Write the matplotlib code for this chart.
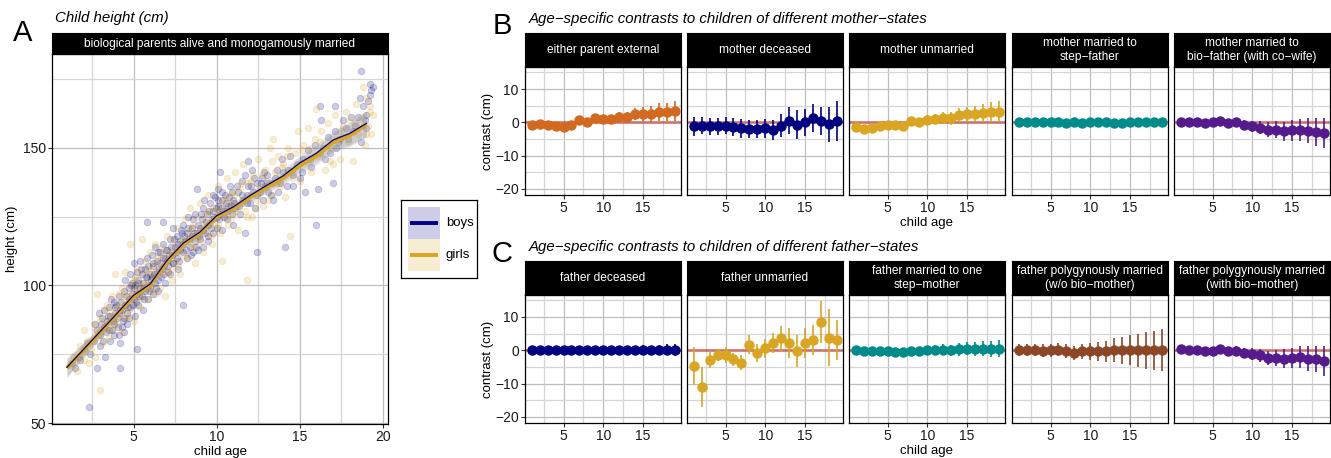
import numpy as np
import matplotlib
matplotlib.use("Agg")
import matplotlib.pyplot as plt
from matplotlib.patches import Rectangle

plt.rcParams['font.family'] = ['Liberation Sans', 'DejaVu Sans']

# ---------------- data ----------------
# panel A: individual children (age, height)
boys_pts = [
    (1.3, 72), (1.5, 70), (1.7, 74), (1.8, 73), (2.0, 77), (2.2, 79), (2.3, 56), (2.4, 75), (2.6, 80), (2.7, 86),
    (2.8, 70), (2.8, 84), (2.9, 90), (3.0, 78), (3.0, 82), (3.1, 88), (3.2, 85), (3.3, 74), (3.4, 87), (3.5, 92),
    (3.6, 80), (3.6, 89), (3.7, 84), (3.8, 94), (3.8, 86), (3.9, 90), (3.9, 92), (4.0, 88), (4.1, 82), (4.1, 96),
    (4.2, 79), (4.2, 70), (4.2, 91), (4.3, 85), (4.3, 91), (4.4, 88), (4.4, 98), (4.5, 93), (4.5, 102), (4.6, 90),
    (4.6, 86), (4.7, 95), (4.7, 99), (4.8, 104), (4.8, 92), (4.9, 97), (4.9, 101), (5.0, 95), (5.0, 108), (5.1, 89),
    (5.1, 100), (5.2, 97), (5.2, 105), (5.2, 77), (5.3, 93), (5.3, 102), (5.4, 99), (5.4, 109), (5.5, 96), (5.5, 104),
    (5.6, 101), (5.6, 91), (5.7, 106), (5.7, 98), (5.8, 103), (5.8, 110), (5.8, 123), (5.9, 100), (5.9, 95), (6.0, 104),
    (6.0, 99), (6.1, 111), (6.1, 103), (6.2, 97), (6.2, 107), (6.3, 101), (6.3, 114), (6.4, 105), (6.4, 109), (6.5, 102),
    (6.5, 98), (6.6, 108), (6.6, 112), (6.7, 106), (6.8, 104), (6.8, 115), (6.8, 123), (6.9, 110), (6.9, 101), (7.0, 109),
    (7.0, 113), (7.1, 107), (7.2, 117), (7.2, 104), (7.3, 111), (7.4, 121), (7.4, 108), (7.5, 114), (7.6, 110), (7.6, 118),
    (7.7, 106), (7.8, 113), (7.8, 116), (7.9, 119), (8.0, 112), (8.0, 122), (8.0, 93), (8.1, 116), (8.2, 110), (8.2, 119),
    (8.3, 125), (8.4, 114), (8.5, 118), (8.5, 121), (8.6, 112), (8.7, 126), (8.7, 116), (8.8, 119), (8.8, 135), (8.9, 113),
    (9.0, 121), (9.0, 117), (9.1, 124), (9.2, 128), (9.2, 114), (9.3, 119), (9.4, 126), (9.5, 122), (9.5, 116), (9.6, 130),
    (9.7, 124), (9.8, 119), (9.8, 127), (9.9, 132), (10.0, 125), (10.0, 121), (10.1, 129), (10.1, 135), (10.2, 126), (10.2, 141),
    (10.3, 120), (10.3, 131), (10.4, 127), (10.5, 133), (10.6, 124), (10.7, 129), (10.8, 136), (10.9, 126), (11.0, 131), (11.0, 122),
    (11.1, 128), (11.3, 134), (11.4, 126), (11.5, 138), (11.6, 131), (11.7, 119), (11.8, 133), (11.9, 136), (11.9, 145), (12.0, 130),
    (12.1, 142), (12.2, 134), (12.3, 128), (12.4, 137), (12.4, 112), (12.6, 134), (12.7, 139), (12.8, 131), (12.9, 136), (13.0, 140),
    (13.1, 134), (13.3, 137), (13.4, 131), (13.6, 142), (13.8, 137), (13.9, 146), (14.0, 141), (14.1, 114), (14.2, 136), (14.4, 147),
    (14.6, 140), (14.8, 144), (15.0, 139), (15.2, 146), (15.3, 134), (15.5, 149), (15.7, 143), (15.9, 151), (16.0, 122), (16.1, 135),
    (16.2, 148), (16.3, 160), (16.2, 165), (16.5, 146), (16.7, 154), (16.8, 148), (17.0, 137), (17.1, 156), (17.1, 165), (17.2, 150),
    (17.4, 153), (17.6, 160), (17.8, 157), (17.9, 153), (18.1, 161), (18.3, 158), (18.5, 161), (18.6, 168), (18.7, 178), (18.7, 152),
    (18.8, 165), (19.0, 162), (19.0, 157), (19.1, 167), (19.2, 173), (19.2, 169), (19.3, 171), (19.4, 172),
    (3.05, 86), (3.15, 80), (3.25, 91), (3.35, 83), (3.45, 89), (3.55, 84), (3.65, 95), (3.75, 87), (3.85, 82), (3.95, 93),
    (4.05, 85), (4.15, 90), (4.25, 94), (4.35, 87), (4.45, 83), (4.55, 96), (4.65, 92), (4.75, 88), (4.85, 100), (4.95, 93),
    (5.05, 99), (5.15, 94), (5.25, 101), (5.35, 96), (5.45, 106), (5.55, 99), (5.65, 95), (5.75, 103), (5.85, 107), (5.95, 98),
    (6.05, 102), (6.15, 108), (6.25, 104), (6.35, 99), (6.45, 112), (6.55, 106), (6.65, 103), (6.75, 110), (6.85, 107), (6.95, 113),
    (7.05, 105), (7.15, 111), (7.25, 114), (7.35, 108), (7.45, 117), (7.55, 112), (7.65, 115), (7.75, 109), (7.85, 120), (7.95, 115),
    (8.05, 118), (8.15, 113), (8.25, 121), (8.35, 117), (8.45, 111), (8.55, 124), (8.65, 119), (8.75, 114), (8.85, 122), (8.95, 118),
    (9.05, 126), (9.15, 120), (9.25, 131), (9.35, 123), (9.45, 118), (9.55, 127), (9.65, 121), (9.75, 133), (9.85, 125), (9.95, 128),
    (10.05, 131), (10.15, 124), (10.25, 128), (10.35, 134), (10.45, 125), (10.55, 130), (10.65, 127), (10.75, 132), (10.85, 129), (10.95, 134),
    (11.05, 130), (11.2, 136), (11.35, 129), (11.55, 133), (11.7, 140), (11.85, 130), (12.05, 136), (12.25, 139), (12.45, 133), (12.65, 137),
    (12.85, 141), (13.05, 137), (13.25, 133), (13.5, 139), (13.7, 134), (14.3, 142), (14.6, 136), (15.1, 141), (15.6, 146), (16.4, 150),
    (17.3, 152), (18.2, 156), (18.9, 160),
]
girls_pts = [
    (1.2, 71), (1.4, 74), (1.6, 69), (1.8, 78), (2.0, 84), (2.0, 73), (2.1, 76), (2.3, 72), (2.5, 80), (2.6, 86),
    (2.7, 74), (2.8, 97), (2.9, 82), (3.0, 62), (3.0, 88), (3.1, 79), (3.2, 91), (3.3, 85), (3.4, 93), (3.5, 81),
    (3.6, 89), (3.7, 96), (3.7, 84), (3.8, 88), (3.9, 104), (4.0, 92), (4.0, 86), (4.1, 97), (4.2, 90), (4.3, 83),
    (4.3, 99), (4.4, 93), (4.5, 88), (4.5, 105), (4.6, 96), (4.7, 91), (4.8, 100), (4.8, 115), (4.9, 94), (5.0, 98),
    (5.0, 87), (5.1, 103), (5.2, 96), (5.3, 106), (5.4, 100), (5.4, 92), (5.5, 117), (5.6, 104), (5.6, 98), (5.7, 109),
    (5.8, 101), (5.9, 95), (6.0, 106), (6.0, 112), (6.1, 100), (6.2, 108), (6.3, 97), (6.3, 115), (6.4, 104), (6.5, 110),
    (6.6, 99), (6.7, 114), (6.8, 107), (6.9, 96), (7.0, 111), (7.0, 118), (7.1, 105), (7.2, 113), (7.3, 102), (7.4, 116),
    (7.5, 109), (7.6, 121), (7.7, 112), (7.8, 104), (7.9, 117), (8.0, 115), (8.1, 124), (8.2, 110), (8.3, 119), (8.4, 128),
    (8.5, 114), (8.6, 122), (8.7, 108), (8.8, 125), (8.9, 117), (9.0, 130), (9.1, 121), (9.2, 112), (9.3, 126), (9.4, 119),
    (9.5, 133), (9.6, 123), (9.7, 115), (9.8, 128), (9.9, 121), (10.0, 127), (10.1, 136), (10.2, 119), (10.3, 109), (10.4, 131),
    (10.5, 125), (10.6, 139), (10.7, 122), (10.8, 130), (10.9, 134), (11.0, 126), (11.1, 141), (11.2, 129), (11.3, 120), (11.4, 135),
    (11.5, 131), (11.6, 144), (11.7, 127), (11.8, 102), (11.9, 137), (12.0, 133), (12.1, 125), (12.2, 140), (12.4, 131), (12.5, 146),
    (12.6, 136), (12.8, 129), (12.9, 142), (13.0, 138), (13.2, 150), (13.3, 133), (13.4, 153), (13.5, 141), (13.7, 147), (13.8, 136),
    (14.0, 144), (14.1, 132), (14.3, 150), (14.4, 118), (14.5, 141), (14.7, 148), (14.9, 156), (15.0, 138), (15.2, 151), (15.4, 145),
    (15.5, 157), (15.7, 141), (15.9, 153), (16.0, 164), (16.1, 147), (16.3, 156), (16.5, 142), (16.7, 159), (16.9, 150), (17.0, 144),
    (17.1, 162), (17.2, 153), (17.4, 146), (17.6, 158), (17.8, 163), (17.9, 152), (18.0, 160), (18.2, 145), (18.4, 166), (18.5, 155),
    (18.7, 161), (18.8, 172), (18.9, 151), (19.0, 168), (19.1, 158), (19.2, 163), (19.3, 155), (19.4, 162),
    (2.2, 80), (2.45, 77), (2.75, 84), (3.05, 83), (3.25, 87), (3.45, 84), (3.65, 91), (3.85, 86), (4.05, 89), (4.25, 94),
    (4.45, 97), (4.65, 89), (4.85, 96), (5.05, 102), (5.25, 99), (5.45, 95), (5.65, 101), (5.85, 105), (6.05, 98), (6.25, 103),
    (6.45, 107), (6.65, 111), (6.85, 104), (7.05, 109), (7.25, 106), (7.45, 112), (7.65, 107), (7.85, 114), (8.05, 111), (8.25, 116),
    (8.45, 121), (8.65, 114), (8.85, 119), (9.05, 116), (9.25, 123), (9.45, 127), (9.65, 118), (9.85, 124), (10.05, 122), (10.25, 129),
    (10.45, 126), (10.65, 132), (10.85, 124), (11.05, 133), (11.25, 127), (11.45, 137), (11.65, 130), (11.85, 125), (12.05, 138), (12.3, 128),
    (12.55, 134), (12.75, 140), (13.1, 131), (13.35, 145), (13.6, 137), (13.9, 143), (14.2, 147), (14.6, 139), (15.1, 149), (15.6, 150),
    (16.2, 152), (16.8, 145), (17.5, 156), (18.3, 159), (19.0, 155), (19.2, 165),
]

# panel A: fitted mean height by age, with ribbon half-width
fit_age = list(range(1, 20))
girls_fit = [70, 76.5, 83, 89.5, 96, 100, 108.5, 115, 119, 125, 128, 132, 135.5, 139, 143.5, 147, 152, 154.5, 158.4]
boys_fit = [70.3, 76.8, 83.3, 89.8, 96.4, 100.5, 109, 115.4, 119.4, 125.3, 128.5, 132.6, 136.3, 139.8, 144.5, 148, 152.8, 155.2, 158.8]
fit_band = [3.4, 2.6, 2.0, 1.6, 1.4, 1.4, 1.4, 1.4, 1.5, 1.5, 1.6, 1.8, 2.0, 2.3, 2.7, 3.1, 3.5, 4.0, 4.6]

# panels B and C: contrast estimates (cm) and interval half-widths by child age
child_age = list(range(1, 20))

ext_est = [-0.9, -0.6, -0.8, -1.1, -1.4, -0.7, 0.6, 0.2, 1.3, 1.1, 1.0, 1.6, 1.5, 2.5, 2.5, 2.5, 3.1, 3.1, 3.5]
ext_err = [0.8, 0.8, 0.8, 0.9, 0.9, 0.9, 1.0, 1.0, 1.1, 1.2, 1.3, 1.5, 1.7, 1.9, 2.1, 2.3, 2.6, 2.8, 3.0]
mdec_est = [-1.2, -1.0, -1.2, -1.2, -1.0, -1.5, -1.8, -2.0, -2.0, -1.8, -2.4, -1.0, 0.5, -0.7, 0.0, 1.2, 0.3, -0.6, 0.5]
mdec_err = [2.8, 2.6, 2.6, 2.6, 2.6, 2.7, 2.8, 2.8, 2.8, 2.9, 3.0, 3.5, 4.0, 4.4, 4.0, 4.2, 4.2, 5.2, 6.0]
munm_est = [-1.5, -2.0, -1.6, -1.0, -0.9, -0.9, -1.2, 0.3, 0.2, 0.8, 1.0, 1.4, 1.2, 2.1, 2.4, 2.5, 2.8, 3.1, 3.2]
munm_err = [0.9, 0.9, 0.9, 0.9, 0.9, 1.0, 1.0, 1.1, 1.2, 1.3, 1.5, 1.7, 1.9, 2.1, 2.3, 2.5, 2.7, 2.9, 3.1]
mstep_est = [0.0, 0.1, 0.1, 0.0, 0.0, 0.0, -0.2, 0.0, -0.2, 0.0, 0.1, 0.2, -0.2, -0.1, 0.0, 0.0, 0.1, 0.0, 0.0]
mstep_err = [0.8, 0.8, 0.8, 0.8, 0.8, 0.8, 0.8, 0.8, 0.8, 0.9, 0.9, 0.9, 1.0, 1.0, 1.1, 1.1, 1.2, 1.2, 1.3]
mcow_est = [0.2, 0.2, 0.0, -0.2, 0.0, 0.3, -0.3, 0.0, -0.7, -1.2, -1.6, -2.2, -2.2, -2.7, -2.4, -2.3, -2.5, -2.8, -3.2]
mcow_err = [1.2, 1.1, 1.0, 1.0, 1.0, 1.1, 1.2, 1.3, 1.5, 1.7, 1.9, 2.2, 2.5, 2.8, 3.1, 3.4, 3.8, 4.2, 4.6]

fdec_est = [0.0, 0.0, 0.0, 0.0, 0.0, 0.0, 0.0, 0.1, 0.0, 0.0, 0.1, 0.0, 0.0, 0.0, 0.2, 0.0, 0.1, 0.2, 0.0]
fdec_err = [0.8, 0.8, 0.8, 0.8, 0.8, 0.8, 0.8, 0.9, 0.9, 0.9, 1.0, 1.0, 1.1, 1.2, 1.3, 1.3, 1.5, 1.6, 1.8]
funm_est = [-4.7, -11.0, -2.9, -1.3, -1.4, -2.7, -3.7, 1.7, -0.8, 0.6, 2.3, 3.6, 2.3, -0.1, 2.3, 3.0, 8.5, 3.8, 3.2]
funm_err = [5.7, 6.0, 2.5, 1.8, 2.3, 2.0, 2.2, 2.8, 2.8, 2.8, 3.0, 3.8, 4.5, 4.8, 4.5, 4.5, 6.3, 8.5, 6.0]
fstep_est = [0.0, -0.1, -0.2, -0.2, -0.2, -0.5, -0.5, -0.3, -0.3, 0.0, 0.0, 0.2, 0.0, 0.3, 0.5, 0.3, 0.5, 0.5, 0.5]
fstep_err = [1.0, 1.0, 1.0, 1.0, 1.0, 1.1, 1.1, 1.2, 1.3, 1.4, 1.5, 1.6, 1.7, 1.9, 2.0, 2.1, 2.3, 2.4, 2.6]
fpoly_est = [0.0, 0.0, 0.0, -0.1, 0.0, 0.2, -0.3, -0.8, -0.3, -0.3, -0.3, -0.3, 0.0, 0.0, 0.0, 0.0, 0.0, 0.0, 0.0]
fpoly_err = [1.8, 1.8, 1.8, 1.9, 2.0, 2.0, 2.1, 2.2, 2.3, 2.5, 2.8, 3.2, 3.6, 4.0, 4.5, 5.0, 5.5, 5.8, 6.3]
fbio_est = [0.3, 0.2, 0.0, -0.2, -0.1, 0.3, -0.2, -0.1, -0.8, -1.1, -1.5, -2.3, -2.3, -2.5, -2.3, -2.0, -2.5, -2.6, -3.2]
fbio_err = [1.2, 1.1, 1.0, 1.0, 1.0, 1.1, 1.2, 1.3, 1.5, 1.7, 1.9, 2.2, 2.5, 2.8, 3.1, 3.4, 3.7, 4.0, 4.4]

mother_labels = ['either parent external', 'mother deceased', 'mother unmarried',
                 'mother married to\nstep\u2212father', 'mother married to\nbio\u2212father (with co\u2212wife)']
father_labels = ['father deceased', 'father unmarried', 'father married to one\nstep\u2212mother',
                 'father polygynously married\n(w/o bio\u2212mother)', 'father polygynously married\n(with bio\u2212mother)']

mother_rows = [(ext_est, ext_err), (mdec_est, mdec_err), (munm_est, munm_err),
               (mstep_est, mstep_err), (mcow_est, mcow_err)]
father_rows = [(fdec_est, fdec_err), (funm_est, funm_err), (fstep_est, fstep_err),
               (fpoly_est, fpoly_err), (fbio_est, fbio_err)]
mother_cols = ['#D2691E', '#000080', '#DAA520', '#008B8B', '#551A8B']
father_cols = ['#000080', '#DAA520', '#008B8B', '#8B4726', '#551A8B']

NAVY = '#000080'
GOLD = '#DAA520'

# ---------------- layout (pixel boxes) ----------------
W, H = 1331, 458
fig = plt.figure(figsize=(W / 100, H / 100), dpi=100)


def box(x0, y0, x1, y1):
    return [x0 / W, 1 - y1 / H, (x1 - x0) / W, (y1 - y0) / H]


def strip(x0, y0, x1, y1, label):
    s = fig.add_axes(box(x0, y0, x1, y1))
    s.set_facecolor('black')
    s.set_xticks([])
    s.set_yticks([])
    for sp in s.spines.values():
        sp.set_color('black')
    s.text(0.5, 0.5, label, color='white', fontsize=8.6, ha='center', va='center',
           transform=s.transAxes, linespacing=1.2)


def style(ax, xmaj, xmin, ymaj, ymin):
    ax.set_xticks(xmaj)
    ax.set_xticks(xmin, minor=True)
    ax.set_yticks(ymaj)
    ax.set_yticks(ymin, minor=True)
    ax.grid(which='major', color='#BEBEBE', lw=0.9)
    ax.grid(which='minor', color='#D6D6D6', lw=0.9)
    ax.set_axisbelow(True)
    ax.tick_params(which='minor', length=0)
    ax.tick_params(which='major', length=3, width=0.8, labelsize=10, pad=1.5, colors='#333333', labelcolor='#1a1a1a')
    for sp in ax.spines.values():
        sp.set_color('black')
        sp.set_linewidth(0.9)


# ---------------- panel A ----------------
boys_age, boys_height = zip(*boys_pts)
girls_age, girls_height = zip(*girls_pts)

axA = fig.add_axes(box(52, 54, 388, 424))
axA.scatter(boys_age, boys_height, s=22, color=NAVY, alpha=0.2, lw=0.6, zorder=2)
axA.scatter(girls_age, girls_height, s=22, color=GOLD, alpha=0.2, lw=0.6, zorder=2)
axA.fill_between(fit_age, np.array(girls_fit) - fit_band, np.array(girls_fit) + fit_band,
                 color='#999999', alpha=0.3, lw=0, zorder=3)
axA.fill_between(fit_age, np.array(boys_fit) - fit_band, np.array(boys_fit) + fit_band,
                 color='#999999', alpha=0.25, lw=0, zorder=3)
axA.plot(fit_age, girls_fit, color=GOLD, lw=3, zorder=4, solid_capstyle='butt')
axA.plot(fit_age, boys_fit, color=NAVY, lw=0.9, zorder=5)
axA.set_xlim(0.1, 20.3)
axA.set_ylim(49.7, 184)
style(axA, [5, 10, 15, 20], [2.5, 7.5, 12.5, 17.5], [50, 100, 150], [75, 125, 175])
axA.set_xlabel('child age', fontsize=9.5, labelpad=1)
axA.set_ylabel('height (cm)', fontsize=9.5, labelpad=3)
strip(52, 33, 388, 54, 'biological parents alive and monogamously married')
fig.text(55 / W, 1 - 18 / H, 'Child height (cm)', fontsize=10.8, style='italic', va='center')
fig.text(23 / W, 1 - 33 / H, 'A', fontsize=21, ha='center', va='center')

# legend
axL = fig.add_axes(box(401, 200, 477, 278))
axL.set_xlim(401, 477)
axL.set_ylim(278, 200)
axL.set_xticks([])
axL.set_yticks([])
for sp in axL.spines.values():
    sp.set_linewidth(0.9)
axL.add_patch(Rectangle((408, 207), 32, 32, color='#CDCDE7', lw=0))
axL.add_patch(Rectangle((408, 239), 32, 32, color='#F7EDD3', lw=0))
axL.plot([410, 438], [223, 223], color=NAVY, lw=2.8, solid_capstyle='butt')
axL.plot([410, 438], [255, 255], color=GOLD, lw=2.8, solid_capstyle='butt')
axL.text(446, 223, 'boys', fontsize=9.5, va='center')
axL.text(446, 255, 'girls', fontsize=9.5, va='center')

# ---------------- panels B and C ----------------
lefts = [525, 687, 849, 1012, 1174]
rows = [
    ('B', 'Age\u2212specific contrasts to children of different mother\u2212states', 33, 67, 195,
     mother_labels, mother_rows, mother_cols),
    ('C', 'Age\u2212specific contrasts to children of different father\u2212states', 261, 295, 423,
     father_labels, father_rows, father_cols),
]
for letter, title, st_top, p_top, p_bot, labels, data, cols in rows:
    fig.text(502 / W, 1 - (st_top - 7) / H, letter, fontsize=21, ha='center', va='center')
    fig.text(529 / W, 1 - (st_top - 14) / H, title, fontsize=10.8, style='italic', va='center')
    for i, x0 in enumerate(lefts):
        ax = fig.add_axes(box(x0, p_top, x0 + 156, p_bot))
        est, err = data[i]
        ax.axhline(0, color='#C0392B', alpha=0.55, lw=2.2, zorder=2)
        ax.errorbar(child_age, est, yerr=err, fmt='o', color=cols[i], ms=6.5, elinewidth=1.2,
                    capsize=0, zorder=3)
        ax.set_xlim(0.15, 19.8)
        ax.set_ylim(-21.8, 16.6)
        style(ax, [5, 10, 15], [2.5, 7.5, 12.5, 17.5], [-20, -10, 0, 10], [-15, -5, 5, 15])
        if i == 0:
            ax.set_ylabel('contrast (cm)', fontsize=9.5, labelpad=1)
        else:
            ax.tick_params(left=False, labelleft=False)
        if i == 2:
            ax.set_xlabel('child age', fontsize=9.5, labelpad=1)
        strip(x0, st_top, x0 + 156, p_top, labels[i])

fig.savefig('out.png', dpi=100)
